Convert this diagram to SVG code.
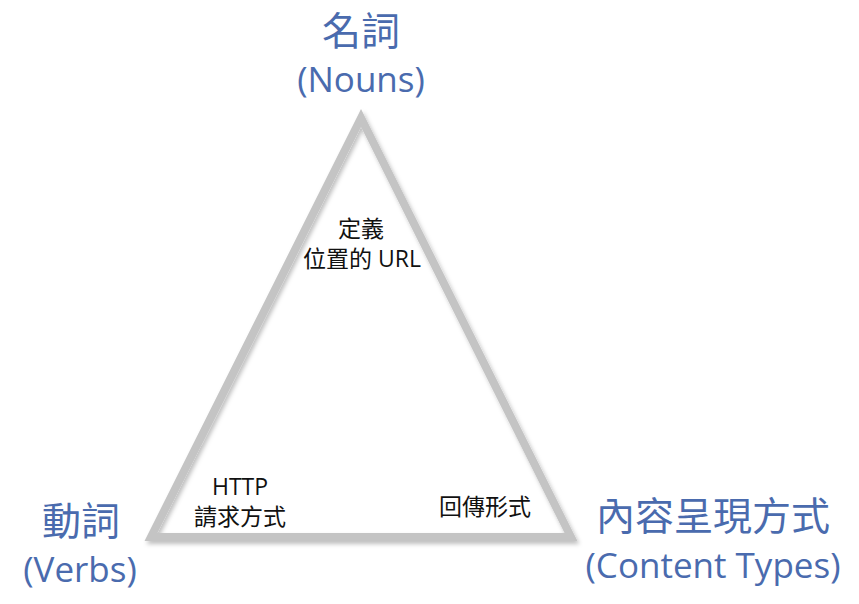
<svg xmlns="http://www.w3.org/2000/svg" width="859" height="604" viewBox="0 0 859 604">
<style>
.big{font-family:"Open Sans","Noto Sans CJK TC",sans-serif;font-size:35px;fill:#4a6bae;text-anchor:middle}
.cjk{font-size:39px}
.small{font-family:"Open Sans","Noto Sans CJK TC",sans-serif;font-size:23px;fill:#111;text-anchor:middle}
</style>
<defs>
<filter id="sh" x="-10%" y="-10%" width="120%" height="120%">
<feDropShadow dx="2" dy="3" stdDeviation="2" flood-color="#000" flood-opacity="0.25"/>
</filter>
</defs>
<rect width="859" height="604" fill="#fff"/>
<g id="connectors">
<polygon points="361,118 151,537 571,537" fill="none" stroke="#c4c4c4" stroke-width="8" stroke-linejoin="miter" filter="url(#sh)"/>
</g>
<g id="nouns">
<text class="big cjk" x="361" y="45">名詞</text>
<text class="big" x="361" y="92">(Nouns)</text>
</g>
<g id="verbs">
<text class="big cjk" x="81" y="535">動詞</text>
<text class="big" x="80" y="582">(Verbs)</text>
</g>
<g id="content">
<text class="big cjk" x="713" y="530">內容呈現方式</text>
<text class="big" x="713" y="578">(Content Types)</text>
</g>
<g id="url">
<text class="small" x="361" y="237">定義</text>
<text class="small" x="362" y="267">位置的 URL</text>
</g>
<g id="http">
<text class="small" x="240" y="495">HTTP</text>
<text class="small" x="240" y="525">請求方式</text>
</g>
<g id="format">
<text class="small" x="485" y="515">回傳形式</text>
</g>
</svg>
